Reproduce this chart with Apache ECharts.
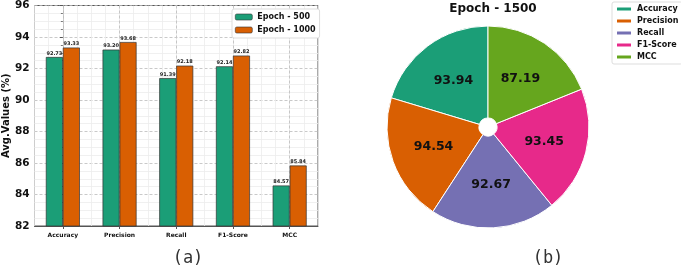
<!DOCTYPE html>
<html>
<head>
<meta charset="utf-8">
<script src="https://cdn.jsdelivr.net/npm/echarts@6/dist/echarts.min.js"></script>
<style>
  html, body { margin: 0; padding: 0; background: #fff; }
  #chart { width: 681px; height: 266px; }
</style>
</head>
<body>
<div id="chart"></div>
<script>
// metrics on the x axis / pie slices
const categories = ['Accuracy', 'Precision', 'Recall', 'F1-Score', 'MCC'];
// bar values
const epoch500 = [92.73, 93.20, 91.39, 92.14, 84.57];
const epoch1000 = [93.33, 93.68, 92.18, 92.82, 85.84];
// pie values
const epoch1500 = [93.94, 94.54, 92.67, 93.45, 87.19];
// y axis ticks
const yTicks = [82, 84, 86, 88, 90, 92, 94, 96];

const barColors = ['#1b9e77', '#d95f02'];
const pieColors = ['#1b9e77', '#d95f02', '#7570b3', '#e7298a', '#66a61e'];
const font = 'DejaVu Sans';

const myChart = echarts.init(document.getElementById('chart'), null, { renderer: 'canvas' });

const barLabel = {
  show: true,
  position: 'top',
  distance: 1,
  fontFamily: font,
  fontWeight: 'bold',
  fontSize: 5,
  color: '#222',
  formatter: (p) => p.value.toFixed(2)
};

const option = {
  backgroundColor: '#fff',
  animation: false,
  title: [{
    text: 'Epoch - 1500',
    left: 488,
    top: -2,
    textAlign: 'center',
    textStyle: { fontFamily: font, fontWeight: 'bold', fontSize: 12, color: '#111' }
  }, {
    text: '(a)',
    left: 183,
    top: 245,
    textAlign: 'center',
    textStyle: { fontFamily: 'DejaVu Sans Mono', fontWeight: 'normal', fontSize: 17, color: '#333' }
  }, {
    text: '(b)',
    left: 543,
    top: 245,
    textAlign: 'center',
    textStyle: { fontFamily: 'DejaVu Sans Mono', fontWeight: 'normal', fontSize: 17, color: '#333' }
  }],
  legend: [{
    data: ['Epoch - 500', 'Epoch - 1000'],
    orient: 'vertical',
    left: 232,
    top: 9,
    itemWidth: 17,
    itemHeight: 6,
    itemGap: 5,
    padding: [4, 4, 4, 3],
    backgroundColor: '#fff',
    borderColor: '#ddd',
    borderWidth: 1,
    borderRadius: 2,
    itemStyle: { borderColor: '#333', borderWidth: 0.6 },
    textStyle: { fontFamily: font, fontWeight: 'bold', fontSize: 8, color: '#111' }
  }, {
    data: categories,
    orient: 'vertical',
    left: 612,
    top: 2,
    itemWidth: 16,
    itemHeight: 5,
    itemGap: 4,
    padding: [3, 4, 3, 3],
    backgroundColor: '#fff',
    borderColor: '#ddd',
    borderWidth: 1,
    borderRadius: 2,
    textStyle: { fontFamily: font, fontWeight: 'bold', fontSize: 8, color: '#111' }
  }],
  grid: {
    left: 31,
    right: 363,
    top: 5,
    bottom: 40,
    show: true,
    borderColor: '#555',
    borderWidth: 1,
    backgroundColor: '#fff'
  },
  xAxis: [{
    type: 'category',
    data: categories,
    axisLine: { lineStyle: { color: '#555' } },
    axisTick: { show: true, alignWithLabel: true, length: 3, lineStyle: { color: '#555' } },
    axisLabel: { fontFamily: font, fontWeight: 'bold', fontSize: 6, color: '#111', margin: 6 },
    splitLine: { show: true, alignWithLabel: true, lineStyle: { color: '#bbb', type: [3, 2], width: 0.8 } },
    z: 2
  }, {
    // overlay axis only for the faint minor vertical grid
    type: 'value',
    min: -0.5,
    max: 4.5,
    interval: 0.25,
    axisLine: { show: false },
    axisTick: { show: false },
    axisLabel: { show: false },
    splitLine: { show: true, lineStyle: { color: '#ececec', width: 0.8 } },
    z: 1
  }],
  yAxis: {
    type: 'value',
    min: yTicks[0],
    max: yTicks[yTicks.length - 1],
    interval: 2,
    name: 'Avg.Values (%)',
    nameLocation: 'middle',
    nameGap: 19,
    nameTextStyle: { fontFamily: font, fontWeight: 'bold', fontSize: 10, color: '#111' },
    axisLine: { show: true, lineStyle: { color: '#555' } },
    axisTick: { show: true, length: 3, lineStyle: { color: '#555' } },
    minorTick: { show: true, splitNumber: 4, length: 2, lineStyle: { color: '#777' } },
    axisLabel: { fontFamily: font, fontWeight: 'bold', fontSize: 10.5, color: '#111', margin: 5 },
    splitLine: { show: true, lineStyle: { color: '#bbb', type: [3, 2], width: 0.8 } },
    minorSplitLine: { show: true, lineStyle: { color: '#ececec', width: 0.8 } }
  },
  series: [{
    name: 'Epoch - 500',
    type: 'bar',
    xAxisIndex: 0,
    data: epoch500,
    barWidth: 17,
    barGap: '0%',
    itemStyle: { color: barColors[0], borderColor: '#333', borderWidth: 0.7 },
    label: barLabel,
    z: 3
  }, {
    name: 'Epoch - 1000',
    type: 'bar',
    xAxisIndex: 0,
    data: epoch1000,
    barWidth: 17,
    barGap: '0%',
    itemStyle: { color: barColors[1], borderColor: '#333', borderWidth: 0.7 },
    label: barLabel,
    z: 3
  }, {
    name: 'Epoch - 1500',
    type: 'pie',
    center: [488, 127],
    radius: [9, 101],
    startAngle: 90,
    clockwise: false,
    data: categories.map((c, i) => ({
      name: c,
      value: epoch1500[i],
      itemStyle: { color: pieColors[i] }
    })),
    itemStyle: { borderColor: '#fff', borderWidth: 1 },
    label: {
      show: true,
      position: 'inside',
      fontFamily: font,
      fontWeight: 'bold',
      fontSize: 12.5,
      color: '#111',
      formatter: (p) => p.value.toFixed(2)
    },
    labelLine: { show: false },
    emphasis: { disabled: true }
  }]
};

myChart.setOption(option);
</script>
</body>
</html>
